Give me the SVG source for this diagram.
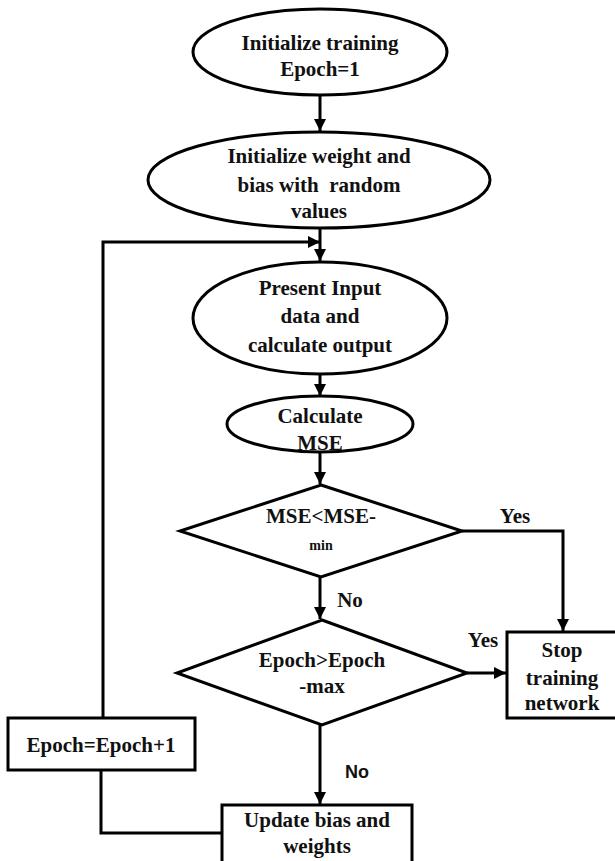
<svg xmlns="http://www.w3.org/2000/svg" width="615" height="861" viewBox="0 0 615 861">
<style>
.s{fill:#fff;stroke:#000;stroke-width:3}
.c{fill:none;stroke:#000;stroke-width:3}
text{font-family:"Liberation Serif","Times New Roman",serif;font-weight:bold;font-size:21px;fill:#111;text-anchor:middle}
.sm{font-size:14px}
.sans{font-family:"Liberation Sans",Arial,sans-serif;font-size:18px}
</style>
<defs>
<marker id="a" viewBox="0 0 10 10" refX="10" refY="5" markerWidth="4" markerHeight="4" orient="auto" markerUnits="strokeWidth">
<path d="M0,0 L10,5 L0,10 z" fill="#000"/>
</marker>
</defs>
<rect width="615" height="861" fill="#fff"/>
<g id="connectors">
<line class="c" x1="320" y1="95" x2="320" y2="131" marker-end="url(#a)"/>
<line class="c" x1="320" y1="228" x2="320" y2="261" marker-end="url(#a)"/>
<polyline class="c" points="222,833 101,833 101,770"/>
<polyline class="c" points="103,718 103,242 320,242" marker-end="url(#a)"/>
<line class="c" x1="320" y1="375" x2="320" y2="396" marker-end="url(#a)"/>
<line class="c" x1="320" y1="452" x2="320" y2="484" marker-end="url(#a)"/>
<polyline class="c" points="462,531 563,531 563,631" marker-end="url(#a)"/>
<line class="c" x1="320" y1="577" x2="320" y2="619" marker-end="url(#a)"/>
<line class="c" x1="467" y1="673" x2="506" y2="673" marker-end="url(#a)"/>
<line class="c" x1="320" y1="725" x2="320" y2="804" marker-end="url(#a)"/>
<text x="515" y="523">Yes</text>
<text x="350" y="607">No</text>
<text x="483" y="647">Yes</text>
<text class="sans" x="357" y="778">No</text>
</g>
<g id="n1">
<ellipse class="s" cx="320" cy="52" rx="127" ry="43"/>
<text x="320" y="50">Initialize training</text>
<text x="320" y="76">Epoch=1</text>
</g>
<g id="n2">
<ellipse class="s" cx="319" cy="180" rx="171" ry="48"/>
<text x="319" y="163">Initialize weight and</text>
<text x="319" y="192" xml:space="preserve">bias with  random</text>
<text x="319" y="218">values</text>
</g>
<g id="n3">
<ellipse class="s" cx="320" cy="318" rx="127" ry="56"/>
<text x="320" y="295">Present Input</text>
<text x="320" y="323">data and</text>
<text x="320" y="352">calculate output</text>
</g>
<g id="n4">
<ellipse class="s" cx="320" cy="424" rx="93" ry="28"/>
<text x="320" y="423">Calculate</text>
<text x="320" y="450">MSE</text>
</g>
<g id="d1">
<polygon class="s" points="321,485 462,531 321,577 180,531"/>
<text x="321" y="523">MSE&lt;MSE-</text>
<text class="sm" x="321" y="550">min</text>
</g>
<g id="d2">
<polygon class="s" points="322,620 467,673 322,725 177,673"/>
<text x="322" y="667">Epoch&gt;Epoch</text>
<text x="322" y="693">-max</text>
</g>
<g id="stop">
<rect class="s" x="507" y="632" width="112" height="86"/>
<text x="562" y="657">Stop</text>
<text x="562" y="685">training</text>
<text x="562" y="710">network</text>
</g>
<g id="inc">
<rect class="s" x="8" y="718" width="187" height="52"/>
<text x="101" y="752">Epoch=Epoch+1</text>
</g>
<g id="upd">
<rect class="s" x="222" y="805" width="190" height="70"/>
<text x="317" y="827">Update bias and</text>
<text x="317" y="853">weights</text>
</g>
</svg>
